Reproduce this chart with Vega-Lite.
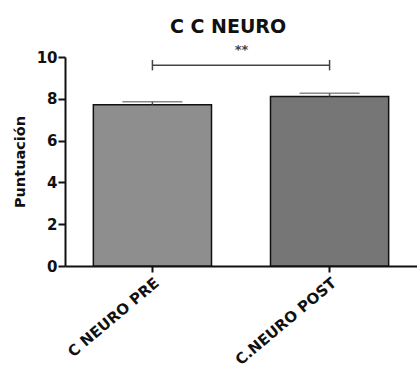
{
  "$schema": "https://vega.github.io/schema/vega-lite/v6.json",
  "width": 352,
  "height": 209,
  "autosize": "none",
  "padding": {"left": 65, "top": 57, "right": 0, "bottom": 102},
  "title": {"text": "C C NEURO", "fontSize": 19, "font": "DejaVu Sans", "fontWeight": "bold", "color": "#111", "dx": -13, "offset": 7},
  "config": {"view": {"stroke": null}, "font": "DejaVu Sans"},
  "datasets": {
    "bars": [
      {"group": "C NEURO PRE", "mean": 7.72, "upper": 7.86},
      {"group": "C.NEURO POST", "mean": 8.11, "upper": 8.26}
    ],
    "sig": [
      {"from": "C NEURO PRE", "to": "C.NEURO POST", "y": 9.6, "ylo": 9.36, "yhi": 9.86, "label": "**", "ly": 10.35}
    ]
  },
  "layer": [
    {
      "data": {"name": "bars"},
      "mark": {"type": "bar", "stroke": "#111", "strokeWidth": 1.5},
      "encoding": {
        "x": {
          "field": "group", "type": "nominal", "sort": ["C NEURO PRE", "C.NEURO POST"],
          "scale": {"domain": ["C NEURO PRE", "C.NEURO POST"], "paddingInner": 0.333, "paddingOuter": 0.16},
          "axis": {"title": null, "domainColor": "#111", "domainWidth": 2, "tickColor": "#111", "tickWidth": 2, "tickSize": 6,
                   "labelAngle": -40, "labelAlign": "right", "labelBaseline": "top", "labelFontWeight": "bold", "labelFontSize": 15,
                   "labelFont": "DejaVu Sans", "labelColor": "#111", "labelPadding": 3}
        },
        "y": {
          "field": "mean", "type": "quantitative",
          "scale": {"domain": [0, 10], "nice": false},
          "axis": {"title": "Puntuación", "values": [0, 2, 4, 6, 8, 10], "grid": false, "domainColor": "#111", "domainWidth": 2,
                   "tickColor": "#111", "tickWidth": 2, "tickSize": 7, "labelFontSize": 15, "labelFontWeight": "bold", "labelColor": "#111",
                   "labelFont": "DejaVu Sans", "titleFont": "DejaVu Sans",
                   "titleFontSize": 14.5, "titleFontWeight": "bold", "titleColor": "#111", "titlePadding": 9, "labelPadding": 1}
        },
        "fill": {"field": "group", "type": "nominal", "scale": {"domain": ["C NEURO PRE", "C.NEURO POST"], "range": ["#8e8e8e", "#767676"]}, "legend": null}
      }
    },
    {
      "data": {"name": "bars"},
      "mark": {"type": "rule", "color": "#555", "strokeWidth": 1.5},
      "encoding": {
        "x": {"field": "group", "type": "nominal"},
        "y": {"field": "mean", "type": "quantitative"},
        "y2": {"field": "upper"}
      }
    },
    {
      "data": {"name": "bars"},
      "mark": {"type": "tick", "color": "#555", "size": 60, "thickness": 1.5},
      "encoding": {
        "x": {"field": "group", "type": "nominal"},
        "y": {"field": "upper", "type": "quantitative"}
      }
    },
    {
      "data": {"name": "sig"},
      "mark": {"type": "rule", "color": "#444", "strokeWidth": 1.5},
      "encoding": {
        "x": {"field": "from", "type": "nominal"},
        "x2": {"field": "to"},
        "y": {"field": "y", "type": "quantitative"}
      }
    },
    {
      "data": {"name": "sig"},
      "mark": {"type": "rule", "color": "#444", "strokeWidth": 1.5},
      "encoding": {
        "x": {"field": "from", "type": "nominal"},
        "y": {"field": "ylo", "type": "quantitative"},
        "y2": {"field": "yhi"}
      }
    },
    {
      "data": {"name": "sig"},
      "mark": {"type": "rule", "color": "#444", "strokeWidth": 1.5},
      "encoding": {
        "x": {"field": "to", "type": "nominal"},
        "y": {"field": "ylo", "type": "quantitative"},
        "y2": {"field": "yhi"}
      }
    },
    {
      "data": {"name": "sig"},
      "mark": {"type": "text", "fontSize": 13, "fontWeight": "bold", "color": "#444", "dx": 89},
      "encoding": {
        "x": {"field": "from", "type": "nominal"},
        "y": {"field": "ly", "type": "quantitative"},
        "text": {"field": "label"}
      }
    }
  ]
}
